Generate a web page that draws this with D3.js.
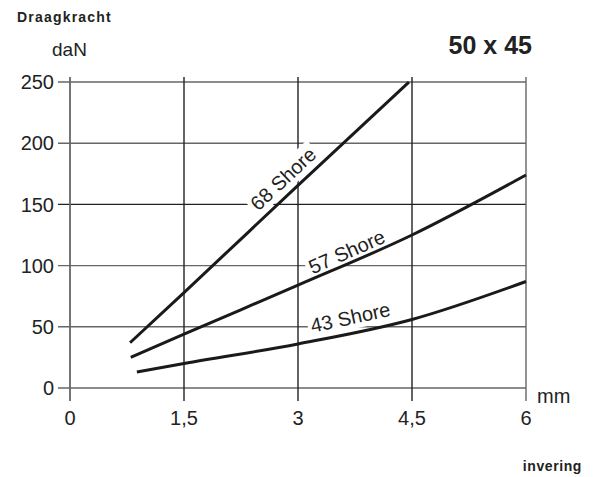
<!DOCTYPE html>
<html><head><meta charset="utf-8">
<script src="https://cdn.jsdelivr.net/npm/d3@7"></script>
<style>
body{margin:0;background:#fff;}
svg{display:block;font-family:"Liberation Sans",Arial,sans-serif;}
</style></head>
<body>
<script>
const xTicks = [0, 1.5, 3, 4.5, 6];
const xTickLabels = ["0", "1,5", "3", "4,5", "6"];
const yTicks = [0, 50, 100, 150, 200, 250];
const seriesNames = ["68 Shore", "57 Shore", "43 Shore"];
const shore68 = [[0.79, 37], [1.5, 78], [3, 165.5], [4.46, 250]];
const shore57 = [[0.8, 25], [1.5, 44], [3, 84], [4.5, 125], [6, 174]];
const shore43 = [[0.88, 13], [1.5, 20], [3, 36], [4.5, 56], [6, 87]];
const labelAt = [2.94, 3.7, 3.73];
const labelOffset = [-8, -4, -8];

(function () {
const W = 598, H = 477;
const svg = d3.select("body").append("svg").attr("width", W).attr("height", H);
const x = d3.scaleLinear().domain([0, 6]).range([70, 526]);
const y = d3.scaleLinear().domain([0, 250]).range([388, 82]);
const gridTop = 77, gridBottom = 401, leftTick = 58;
const labelSize = 20;

svg.append("g").selectAll("line").data(yTicks).join("line")
  .attr("x1", leftTick).attr("x2", x(6))
  .attr("y1", d => y(d)).attr("y2", d => y(d))
  .attr("stroke", d => d === 150 ? "#222" : "#666").attr("stroke-width", 1.4);
svg.append("g").selectAll("line").data(xTicks).join("line")
  .attr("x1", d => x(d)).attr("x2", d => x(d))
  .attr("y1", gridTop).attr("y2", gridBottom)
  .attr("stroke", d => d === 0 || d === 6 ? "#666" : "#222").attr("stroke-width", d => d === 0 ? 1.8 : 1.4);

svg.append("g").selectAll("text").data(yTicks).join("text")
  .attr("x", 54).attr("y", d => y(d)).attr("dy", "0.36em")
  .attr("text-anchor", "end").attr("font-size", 20).attr("fill", "#222")
  .text(d => d);
svg.append("g").selectAll("text").data(xTicks).join("text")
  .attr("x", d => x(d)).attr("y", 425)
  .attr("text-anchor", "middle").attr("font-size", 20).attr("fill", "#222")
  .text((d, i) => xTickLabels[i]);

const series = [shore68, shore57, shore43];
const line = d3.line().x(d => x(d[0])).y(d => y(d[1])).curve(d3.curveMonotoneX);

function valAt(pts, xv) {
  for (let i = 0; i < pts.length - 1; i++) {
    if (xv >= pts[i][0] && xv <= pts[i + 1][0]) {
      const t = (xv - pts[i][0]) / (pts[i + 1][0] - pts[i][0]);
      return pts[i][1] + t * (pts[i + 1][1] - pts[i][1]);
    }
  }
  return pts[pts.length - 1][1];
}
const transforms = series.map((pts, i) => {
  const xv = labelAt[i];
  const px = x(xv), py = y(valAt(pts, xv));
  const dx = x(xv + 0.1) - x(xv - 0.1);
  const dyv = y(valAt(pts, xv + 0.1)) - y(valAt(pts, xv - 0.1));
  const ang = Math.atan2(dyv, dx) * 180 / Math.PI;
  const tr = `translate(${px},${py}) rotate(${ang})`;
  const g = svg.append("g").attr("transform", tr);
  const rect = g.append("rect").attr("fill", "#fff");
  const t = g.append("text").attr("x", 0).attr("y", labelOffset[i])
    .attr("text-anchor", "middle").attr("font-size", labelSize)
    .text(seriesNames[i]);
  const bb = t.node().getBBox();
  rect.attr("x", bb.x - 3).attr("y", bb.y - 1).attr("width", bb.width + 6).attr("height", bb.height + 2);
  t.remove();
  return tr;
});

svg.append("g").selectAll("path").data(series).join("path")
  .attr("d", line).attr("fill", "none").attr("stroke", "#1a1a1a")
  .attr("stroke-width", 3);

transforms.forEach((tr, i) => {
  svg.append("text").attr("transform", tr).attr("x", 0).attr("y", labelOffset[i])
    .attr("text-anchor", "middle").attr("font-size", labelSize).attr("fill", "#222")
    .text(seriesNames[i]);
});

svg.append("text").attr("x", 17).attr("y", 22).attr("font-size", 14).attr("font-weight", "bold")
  .attr("letter-spacing", 1.2).attr("fill", "#222").text("Draagkracht");
svg.append("text").attr("x", 52).attr("y", 56).attr("font-size", 19).attr("fill", "#222").text("daN");
svg.append("text").attr("x", 532).attr("y", 54).attr("text-anchor", "end").attr("font-size", 25)
  .attr("font-weight", "bold").attr("fill", "#222").text("50 x 45");
svg.append("text").attr("x", 537).attr("y", 403).attr("font-size", 20).attr("fill", "#222").text("mm");
svg.append("text").attr("x", 582).attr("y", 471).attr("text-anchor", "end").attr("font-size", 14)
  .attr("font-weight", "bold").attr("letter-spacing", 0.6).attr("fill", "#222").text("invering");
})();
</script>
</body></html>
